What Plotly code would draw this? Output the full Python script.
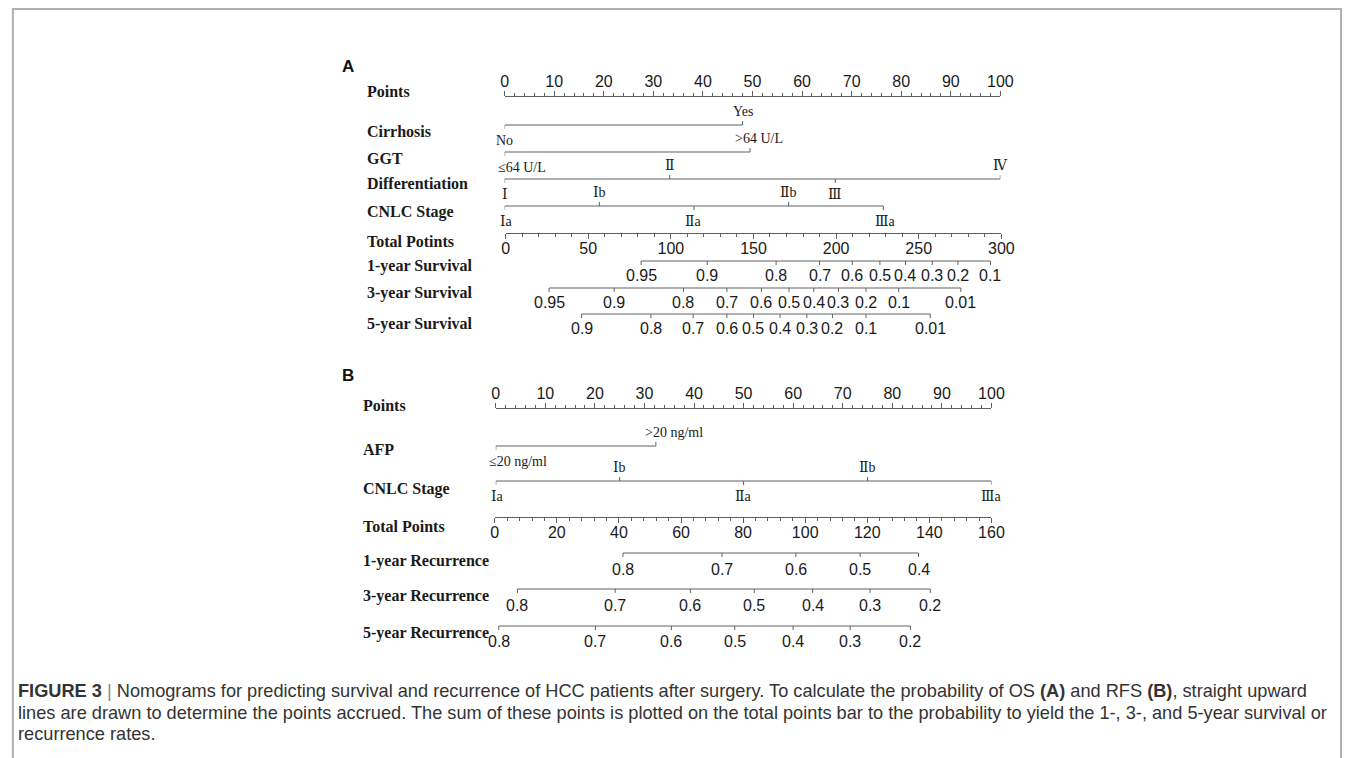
import plotly.graph_objects as go

W, H = 1355, 758

# ---------------- Panel A: overall survival nomogram ----------------
a_points_ticks = list(range(0, 101, 10))
a_total_ticks = list(range(0, 301, 50))

cirrhosis_levels = ["No", "Yes"]
cirrhosis_pts = [0, 48]
ggt_levels = ["≤64 U/L", ">64 U/L"]
ggt_pts = [0, 49.5]
diff_levels = ["Ⅰ", "Ⅱ", "Ⅲ", "Ⅳ"]
diff_pts = [0, 33.3, 66.7, 100]
cnlc_a_levels = ["Ⅰa", "Ⅰb", "Ⅱa", "Ⅱb", "Ⅲa"]
cnlc_a_pts = [0, 19.1, 38.2, 57.3, 76.4]

surv1_probs = [0.95, 0.9, 0.8, 0.7, 0.6, 0.5, 0.4, 0.3, 0.2, 0.1]
surv1_total = [82, 122, 163.7, 190, 209.8, 226.5, 242, 258.2, 273.7, 293.4]
surv3_probs = [0.95, 0.9, 0.8, 0.7, 0.6, 0.5, 0.4, 0.3, 0.2, 0.1, 0.01]
surv3_total = [26.3, 65.7, 107.6, 133.9, 154.8, 171.5, 186.5, 201.4, 218.1, 237.9, 275.5]
surv5_probs = [0.9, 0.8, 0.7, 0.6, 0.5, 0.4, 0.3, 0.2, 0.1, 0.01]
surv5_total = [46, 87.9, 113.5, 133.9, 150, 166.1, 182.3, 197.8, 218.1, 257]

# ---------------- Panel B: recurrence nomogram ----------------
b_points_ticks = list(range(0, 101, 10))
b_total_ticks = list(range(0, 161, 20))

afp_levels = ["≤20 ng/ml", ">20 ng/ml"]
afp_pts = [0, 32.3]
cnlc_b_levels = ["Ⅰa", "Ⅰb", "Ⅱa", "Ⅱb", "Ⅲa"]
cnlc_b_pts = [0, 25, 50, 75, 100]

rec1_probs = [0.8, 0.7, 0.6, 0.5, 0.4]
rec1_total = [41.3, 73.2, 97, 117.7, 136.5]
rec3_probs = [0.8, 0.7, 0.6, 0.5, 0.4, 0.3, 0.2]
rec3_total = [7.3, 38.8, 63, 83.6, 102.4, 120.9, 140.3]
rec5_probs = [0.8, 0.7, 0.6, 0.5, 0.4, 0.3, 0.2]
rec5_total = [1.3, 32.4, 56.9, 77.3, 96.1, 114.5, 133.9]

# ---------------- layout constants (pixel rows / spans) ----------------
ROW = dict(a_points=96, a_cirr=125, a_ggt=152, a_diff=179, a_cnlc=206, a_total=233,
           a_s1=261, a_s3=288, a_s5=314,
           b_points=408, b_afp=446, b_cnlc=481, b_total=517,
           b_r1=553, b_r3=589, b_r5=626)
SPAN = dict(x=(507, 1009), x2=(508, 1010), x3=(498, 1000), x4=(497, 1000))

LINE_C = "#606060"
TEXT_C = "#1a1a1a"
SANS = "Arial, Liberation Sans, sans-serif"
SERIF = "Times New Roman, Liberation Serif, DejaVu Serif, serif"
NUM_SIZE = 16
TICK = 4

fig = go.Figure()


def seg_trace(xa, xs, ys):
    fig.add_trace(go.Scatter(x=xs, y=ys, xaxis=xa, yaxis="y", mode="lines",
                             line=dict(color=LINE_C, width=1),
                             hoverinfo="skip", showlegend=False))


def factor_row(xa, y, pts, levels, sides, anchors=None, shifts=None):
    n = len(pts)
    anchors = anchors or ["center"] * n
    shifts = shifts or [0] * n
    seg_trace(xa, [min(pts), max(pts)], [y, y])
    tx, ty = [], []
    for p, s in zip(pts, sides):
        tx += [p, p, None]
        ty += [y, y - TICK if s == "up" else y + TICK, None]
    seg_trace(xa, tx, ty)
    for p, lab, s, an, sh in zip(pts, levels, sides, anchors, shifts):
        fig.add_annotation(x=p, y=y - 14 if s == "up" else y + 15, xref=xa, yref="y",
                           text=lab, showarrow=False, xanchor=an, yanchor="middle",
                           xshift=sh, font=dict(family=SERIF, size=14, color=TEXT_C))


def prob_row(xa, y, totals, probs, off=14):
    seg_trace(xa, [min(totals), max(totals)], [y, y])
    tx, ty = [], []
    for t in totals:
        tx += [t, t, None]
        ty += [y, y + TICK, None]
    seg_trace(xa, tx, ty)
    for t, p in zip(totals, probs):
        fig.add_annotation(x=t, y=y + off, xref=xa, yref="y", text=str(p),
                           showarrow=False, xanchor="center", yanchor="middle",
                           font=dict(family=SANS, size=NUM_SIZE, color=TEXT_C))


def row_name(x_px, y, text):
    fig.add_annotation(x=x_px / W, y=y, xref="paper", yref="y", text="<b>%s</b>" % text,
                       showarrow=False, xanchor="left", yanchor="middle",
                       font=dict(family=SERIF, size=16, color=TEXT_C))


# Panel A rows
factor_row("x", ROW["a_cirr"], cirrhosis_pts, cirrhosis_levels, ["down", "up"])
factor_row("x", ROW["a_ggt"], ggt_pts, ggt_levels, ["down", "up"],
           anchors=["left", "center"], shifts=[-9, 9])
factor_row("x", ROW["a_diff"], diff_pts, diff_levels, ["down", "up", "down", "up"])
factor_row("x", ROW["a_cnlc"], cnlc_a_pts, cnlc_a_levels, ["down", "up", "down", "up", "down"],
           shifts=[2, 0, 0, 0, 2])
prob_row("x2", ROW["a_s1"], surv1_total, surv1_probs)
prob_row("x2", ROW["a_s3"], surv3_total, surv3_probs)
prob_row("x2", ROW["a_s5"], surv5_total, surv5_probs)

# Panel B rows
factor_row("x3", ROW["b_afp"], afp_pts, afp_levels, ["down", "up"],
           anchors=["left", "center"], shifts=[-9, 18])
factor_row("x3", ROW["b_cnlc"], cnlc_b_pts, cnlc_b_levels, ["down", "up", "down", "up", "down"],
           shifts=[2, 0, 0, 0, 0])
prob_row("x4", ROW["b_r1"], rec1_total, rec1_probs, off=16)
prob_row("x4", ROW["b_r3"], rec3_total, rec3_probs, off=16)
prob_row("x4", ROW["b_r5"], rec5_total, rec5_probs, off=15)

# Row names
for y, t in [(ROW["a_points"] - 5, "Points"), (131, "Cirrhosis"), (158, "GGT"),
             (183, "Differentiation"), (212, "CNLC Stage"), (241, "Total Potints"),
             (266, "1-year Survival"), (293, "3-year Survival"), (324, "5-year Survival")]:
    row_name(366, y, t)
for y, t in [(405, "Points"), (449, "AFP"), (489, "CNLC Stage"), (526, "Total Points"),
             (561, "1-year Recurrence"), (596, "3-year Recurrence"), (633, "5-year Recurrence")]:
    row_name(362, y, t)

# Panel letters
for y, t in [(66, "A"), (375, "B")]:
    fig.add_annotation(x=348 / W, y=y, xref="paper", yref="y", text="<b>%s</b>" % t,
                       showarrow=False, xanchor="center", yanchor="middle",
                       font=dict(family=SANS, size=17, color="#111111"))


def scale_axis(name, ticks, side, row, minor_step, standoff, ticklen=5):
    x0, x1 = SPAN[name]
    return dict(domain=[x0 / W, x1 / W], range=[ticks[0], ticks[-1]], anchor="free",
                position=1 - row / H, side=side, tickmode="array", tickvals=ticks,
                ticks="outside", ticklen=ticklen, tickwidth=1, tickcolor=LINE_C,
                ticklabelstandoff=standoff,
                showline=True, linecolor=LINE_C, linewidth=1, showgrid=False,
                zeroline=False, fixedrange=True,
                tickfont=dict(family=SANS, size=NUM_SIZE, color=TEXT_C),
                minor=dict(dtick=minor_step, ticks="outside", ticklen=3,
                           tickcolor=LINE_C, tickwidth=1, showgrid=False))


# Caption
cap_lines = [
    "<b>FIGURE 3</b> <span style='color:#888888'>|</span> Nomograms for predicting survival and "
    "recurrence of HCC patients after surgery. "
    "To calculate the probability of OS <b>(A)</b> and RFS <b>(B)</b>, straight upward",
    "lines are drawn to determine the points accrued. The sum of these points is plotted on the total "
    "points bar to the probability to yield the 1-, 3-, and 5-year survival or",
    "recurrence rates.",
]
for y, t in zip([691, 713, 734], cap_lines):
    fig.add_annotation(x=12 / W, y=y, xref="paper", yref="y", text=t, showarrow=False,
                       xanchor="left", yanchor="middle",
                       font=dict(family=SANS, size=18.2, color="#333333"))

fig.update_layout(
    width=W, height=H, margin=dict(l=0, r=0, t=0, b=0),
    paper_bgcolor="white", plot_bgcolor="rgba(0,0,0,0)", showlegend=False,
    xaxis=scale_axis("x", a_points_ticks, "top", ROW["a_points"], 2, -2),
    xaxis2=scale_axis("x2", a_total_ticks, "bottom", ROW["a_total"], 10, -4),
    xaxis3=scale_axis("x3", b_points_ticks, "top", ROW["b_points"], 2, -2),
    xaxis4=scale_axis("x4", b_total_ticks, "bottom", ROW["b_total"], 4, -4),
    yaxis=dict(domain=[0, 1], range=[H, 0], visible=False, fixedrange=True),
    shapes=[dict(type="rect", xref="paper", yref="paper", x0=9 / W, x1=1354 / W,
                 y0=-0.02, y1=1 - 9 / H, line=dict(color="#b0b0b0", width=2))],
)

fig.write_html("out.html")
